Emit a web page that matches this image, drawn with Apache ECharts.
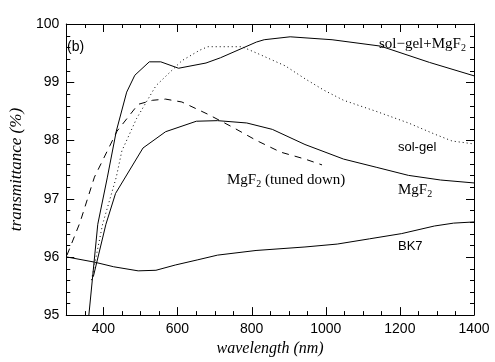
<!DOCTYPE html>
<html>
<head>
<meta charset="utf-8">
<script src="https://cdn.jsdelivr.net/npm/echarts@6/dist/echarts.min.js"></script>
<style>html,body{margin:0;padding:0;background:#fff;}#c{width:495px;height:362px;}</style>
</head>
<body>
<div id="c"></div>
<script>
// ---- data (wavelength nm, transmittance %) ----
const solgelMgF2 = [[355,94.9],[361,95.0],[385,96.56],[411,97.37],[435,98.16],[463,98.83],[485,99.12],[524,99.35],[555,99.35],[603,99.24],[677,99.33],[716,99.42],[813,99.69],[834,99.73],[904,99.78],[1017,99.73],[1148,99.62],[1280,99.34],[1400,99.11]];
const solgel = [[368,95.6],[398,96.56],[435,97.37],[450,97.82],[490,98.38],[542,98.94],[612,99.37],[660,99.55],[682,99.61],[774,99.61],[821,99.48],[891,99.28],[944,99.06],[996,98.86],[1048,98.69],[1136,98.5],[1223,98.3],[1297,98.1],[1341,97.99],[1400,97.94]];
const mgf2 = [[373,95.66],[407,96.56],[433,97.09],[507,97.87],[568,98.15],[651,98.33],[708,98.34],[787,98.3],[856,98.19],[944,97.93],[1048,97.68],[1136,97.54],[1223,97.4],[1310,97.32],[1400,97.27]];
const mgf2Tuned = [[302,96.03],[337,96.59],[376,97.37],[437,98.16],[494,98.62],[533,98.69],[568,98.71],[612,98.66],[682,98.45],[751,98.22],[813,98.0],[878,97.8],[944,97.68],[990,97.58]];
const bk7 = [[300,96.0],[376,95.91],[428,95.83],[494,95.76],[542,95.77],[594,95.86],[655,95.95],[708,96.03],[812,96.11],[944,96.17],[1031,96.22],[1118,96.31],[1205,96.4],[1293,96.53],[1345,96.58],[1400,96.6]];
// ---- axes / ticks ----
const xMin = 300, xMax = 1400, yMin = 95, yMax = 100;
const xLabels = [400,600,800,1000,1200,1400];
const xMajorTicks = [400,600,800,1000,1200];
const xMinorTicks = [350,450,500,550,650,700,750,850,900,950,1050,1100,1150,1250,1300,1350];
const yMajorTicks = [96,97,98,99];
const yMinorTicks = [95.2,95.4,95.6,95.8,96.2,96.4,96.6,96.8,97.2,97.4,97.6,97.8,98.2,98.4,98.6,98.8,99.2,99.4,99.6,99.8];

const chart = echarts.init(document.getElementById('c'));
const black = '#000';
const tickFont = {fontFamily:'Liberation Sans', fontSize:14, color:black};
const MAJOR = 8, MINOR = 4;
function crisp(v){ return Math.round(v) + 0.5; }
function tickLine(x1,y1,x2,y2){ return {type:'line', shape:{x1:x1,y1:y1,x2:x2,y2:y2}, style:{stroke:black, lineWidth:1}, silent:true}; }
function line(data, type){
  return {type:'line', data:data, xAxisIndex:0, yAxisIndex:0, showSymbol:false, symbol:'none',
    smooth:false, animation:false, lineStyle:{color:black, width:1, type:type}};
}
const xTickData = xMajorTicks.map(v=>[v,1]).concat(xMinorTicks.map(v=>[v,0]));
const yTickData = yMajorTicks.map(v=>[v,1]).concat(yMinorTicks.map(v=>[v,0]));
const sub = {s:{fontFamily:'Liberation Serif', fontSize:10, verticalAlign:'bottom', lineHeight:18}};
chart.setOption({
  animation:false,
  grid:{left:54, right:21, top:24, bottom:41},
  xAxis:[
    {type:'value', min:xMin, max:xMax, splitNumber:5,
      axisLine:{show:true, onZero:false, lineStyle:{color:black}}, splitLine:{show:false},
      axisTick:{show:false},
      axisLabel:{margin:7, ...tickFont, formatter:v=> xLabels.indexOf(v)>=0 ? String(v) : ''},
      name:'wavelength (nm)', nameLocation:'middle', nameGap:25,
      nameTextStyle:{fontFamily:'Liberation Serif', fontStyle:'italic', fontSize:16, color:black}},
    {type:'value', position:'top', min:xMin, max:xMax,
      axisLine:{show:true, onZero:false, lineStyle:{color:black}}, splitLine:{show:false},
      axisTick:{show:false}, axisLabel:{show:false}}
  ],
  yAxis:[
    {type:'value', min:yMin, max:yMax, interval:1,
      axisLine:{show:true, onZero:false, lineStyle:{color:black}}, splitLine:{show:false},
      axisTick:{show:false},
      axisLabel:{margin:7, ...tickFont},
      name:'transmittance (%)', nameLocation:'middle', nameGap:30,
      nameTextStyle:{fontFamily:'Liberation Serif', fontStyle:'italic', fontSize:17, color:black}},
    {type:'value', position:'right', min:yMin, max:yMax, interval:1,
      axisLine:{show:true, onZero:false, lineStyle:{color:black}}, splitLine:{show:false},
      axisTick:{show:false}, axisLabel:{show:false}}
  ],
  series:[
    line(solgelMgF2,'solid'), line(solgel,[1,3]), line(mgf2,'solid'), line(mgf2Tuned,[7,6]), line(bk7,'solid'),
    {type:'custom', xAxisIndex:0, yAxisIndex:0, data:xTickData, encode:{x:0}, animation:false, silent:true, clip:false,
      renderItem:(params, api)=>{
        const v = api.value(0), len = api.value(1) ? MAJOR : MINOR;
        const b = api.coord([v, yMin]), t = api.coord([v, yMax]);
        const x = crisp(b[0]);
        return {type:'group', children:[tickLine(x, b[1], x, b[1]-len), tickLine(x, t[1], x, t[1]+len)]};
      }},
    {type:'custom', xAxisIndex:0, yAxisIndex:0, data:yTickData, encode:{y:0}, animation:false, silent:true, clip:false,
      renderItem:(params, api)=>{
        const v = api.value(0), len = api.value(1) ? MAJOR : MINOR;
        const l = api.coord([xMin, v]), r = api.coord([xMax, v]);
        const y = crisp(l[1]);
        return {type:'group', children:[tickLine(l[0], y, l[0]+len, y), tickLine(r[0], y, r[0]-len, y)]};
      }}
  ],
  graphic:[
    {type:'text', x:67, y:47, style:{text:'(b)', font:'14px "Liberation Sans"', fill:black, verticalAlign:'middle'}},
    {type:'text', x:379, y:44, style:{text:'sol\u2212gel+MgF{s|2}', font:'15px "Liberation Serif"', fill:black, verticalAlign:'middle', lineHeight:18, rich:sub}},
    {type:'text', x:398, y:147, style:{text:'sol-gel', font:'13px "Liberation Sans"', fill:black, verticalAlign:'middle'}},
    {type:'text', x:227, y:180, style:{text:'MgF{s|2} (tuned down)', font:'15px "Liberation Serif"', fill:black, verticalAlign:'middle', lineHeight:18, rich:sub}},
    {type:'text', x:398, y:190, style:{text:'MgF{s|2}', font:'15px "Liberation Serif"', fill:black, verticalAlign:'middle', lineHeight:18, rich:sub}},
    {type:'text', x:398, y:246, style:{text:'BK7', font:'13px "Liberation Sans"', fill:black, verticalAlign:'middle'}}
  ]
});
</script>
</body>
</html>
